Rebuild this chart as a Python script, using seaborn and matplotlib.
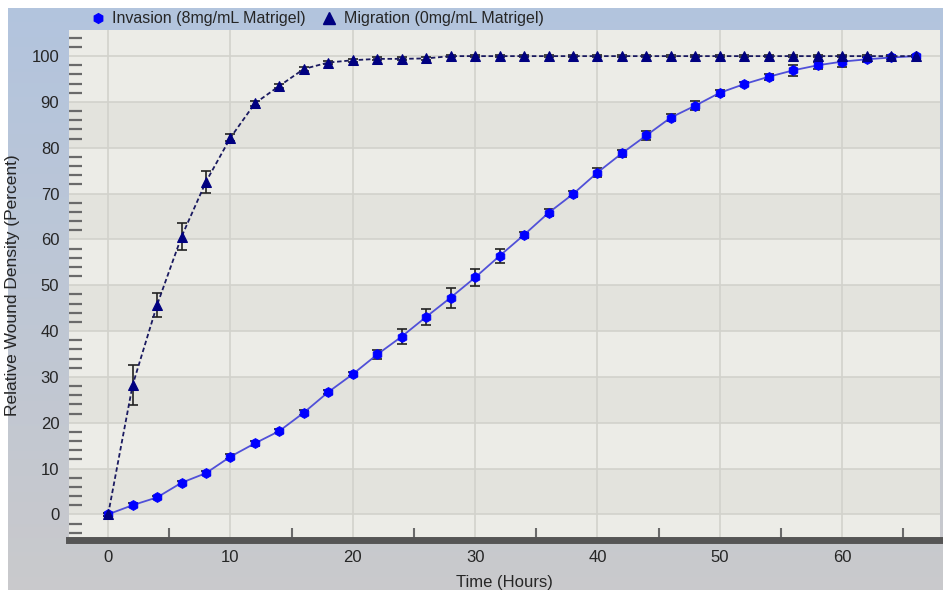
import numpy as np
import pandas as pd
import matplotlib
matplotlib.use("Agg")
import matplotlib.pyplot as plt
from matplotlib.lines import Line2D
import seaborn as sns

# ---- data ----
hours = list(range(0, 67, 2))
invasion = [0.0, 2.0, 3.7, 6.9, 9.0, 12.6, 15.5, 18.2, 22.2, 26.7, 30.6, 34.9,
            38.8, 43.1, 47.3, 51.7, 56.4, 61.0, 65.8, 69.9, 74.6, 78.8, 82.7,
            86.6, 89.2, 92.0, 93.9, 95.5, 96.9, 98.0, 98.8, 99.3, 99.7, 100.0]
invasion_err = [0.3, 0.4, 0.4, 0.4, 0.4, 0.5, 0.5, 0.5, 0.5, 0.5, 0.5, 0.9,
                1.6, 1.8, 2.2, 1.8, 1.5, 0.6, 0.8, 0.6, 1.0, 0.8, 0.9,
                0.7, 1.0, 0.7, 0.5, 0.7, 1.2, 0.8, 1.2, 0.6, 0.4, 0.2]
migration = [0.0, 28.2, 45.7, 60.6, 72.6, 82.2, 89.7, 93.5, 97.2, 98.6, 99.1,
             99.4, 99.4, 99.5, 100.0, 100.0, 100.0, 100.0, 100.0, 100.0, 100.0, 100.0,
             100.0, 100.0, 100.0, 100.0, 100.0, 100.0, 100.0, 100.0, 100.0, 100.0, 100.0, 100.0]
migration_err = [0.3, 4.4, 2.6, 3.0, 2.4, 0.8, 0.5, 0.5, 0.4, 0.3, 0.3,
                 0.3, 0.3, 0.3, 0.3, 0.3, 0.3, 0.3, 0.3, 0.3, 0.3, 0.3,
                 0.3, 0.3, 0.3, 0.3, 0.3, 0.3, 0.3, 0.3, 0.3, 0.3, 0.3, 0.3]
series_names = ["Invasion (8mg/mL Matrigel)", "Migration (0mg/mL Matrigel)"]
x_ticks = [0, 10, 20, 30, 40, 50, 60]
y_ticks = [0, 10, 20, 30, 40, 50, 60, 70, 80, 90, 100]

df_inv = pd.DataFrame({"Time": hours, "Value": invasion})
df_mig = pd.DataFrame({"Time": hours, "Value": migration})

sns.set_theme(style="white")
plt.rcParams["font.family"] = ["Liberation Sans", "DejaVu Sans"]

W, H = 943, 590
fig = plt.figure(figsize=(W / 100, H / 100), dpi=100, facecolor="white")

# background gradient panel
bg = fig.add_axes([8 / W, 0, 1 - 8 / W, 1 - 8 / H], zorder=-10)
top = np.array([0.70, 0.77, 0.87])
bot = np.array([0.79, 0.79, 0.80])
t = np.linspace(0, 1, 256)[:, None]
grad = top[None, :] * (1 - t) + bot[None, :] * t
bg.imshow(grad[:, None, :].repeat(2, axis=1), aspect="auto", extent=[0, 1, 0, 1])
bg.set_axis_off()

ax = fig.add_axes([69 / W, 1 - 540 / H, (940 - 69) / W, (540 - 30) / H])
ax.set_facecolor("#ecece7")
ax.set_xlim(-3.2, 68.0)
ax.set_ylim(-5.6, 105.7)

# alternating bands
for lo in range(0, 100, 20):
    ax.axhspan(lo, lo + 10, color="#e3e3dd", zorder=0, lw=0)

ax.set_xticks(x_ticks)
ax.set_yticks(y_ticks)
ax.set_xticks(np.arange(5, 68, 10), minor=True)
ax.set_yticks([v for v in np.arange(-4, 106, 2) if v % 10 != 0], minor=True)
ax.grid(True, which="major", color="#d2d2cc", lw=1.2, zorder=0.5)
ax.set_axisbelow(True)

sns.lineplot(data=df_inv, x="Time", y="Value", ax=ax, color="#5050d8", lw=1.3,
             marker="h", markersize=7, markerfacecolor="#0000ff",
             markeredgecolor="#0000ff", zorder=3)
sns.lineplot(data=df_mig, x="Time", y="Value", ax=ax, color="#1a1a60", lw=1.3,
             linestyle=(0, (2.5, 1.5)), marker="^", markersize=7.5,
             markerfacecolor="#000080", markeredgecolor="#000080", zorder=4)
ax.errorbar(hours, invasion, yerr=invasion_err, fmt="none", ecolor="#222222",
            elinewidth=1.2, capsize=3.5, capthick=1.2, zorder=2)
ax.errorbar(hours, migration, yerr=migration_err, fmt="none", ecolor="#222222",
            elinewidth=1.2, capsize=3.5, capthick=1.2, zorder=2)

for s in ["top", "right", "left"]:
    ax.spines[s].set_visible(False)
ax.spines["bottom"].set_color("#555555")
ax.spines["bottom"].set_linewidth(5)

ax.tick_params(axis="y", which="major", length=0, pad=7, labelsize=12, labelcolor="#262626")
ax.tick_params(axis="y", which="minor", direction="in", length=9, width=1.6,
               color="#6a6a6a", left=True)
ax.tick_params(axis="x", which="major", length=0, pad=7, labelsize=12, labelcolor="#262626")
ax.tick_params(axis="x", which="minor", direction="in", length=9, width=1.5,
               color="#6a6a6a", bottom=True, pad=20)

ax.set_xlabel("Time (Hours)", fontsize=12, color="#262626", labelpad=5)
ax.set_ylabel("Relative Wound Density (Percent)", fontsize=12.5, color="#262626", labelpad=8)

handles = [
    Line2D([], [], linestyle="none", marker="h", markersize=7,
           markerfacecolor="#0000ff", markeredgecolor="#0000ff"),
    Line2D([], [], linestyle="none", marker="^", markersize=8,
           markerfacecolor="#000080", markeredgecolor="#000080"),
]
fig.legend(handles, series_names, loc="center left", bbox_to_anchor=(0.078, 0.968),
           ncol=2, frameon=False, fontsize=11.5, handletextpad=0.3,
           columnspacing=0.9, handlelength=1.2, labelcolor="#262626")

fig.savefig("out.png", dpi=100, facecolor="white")
